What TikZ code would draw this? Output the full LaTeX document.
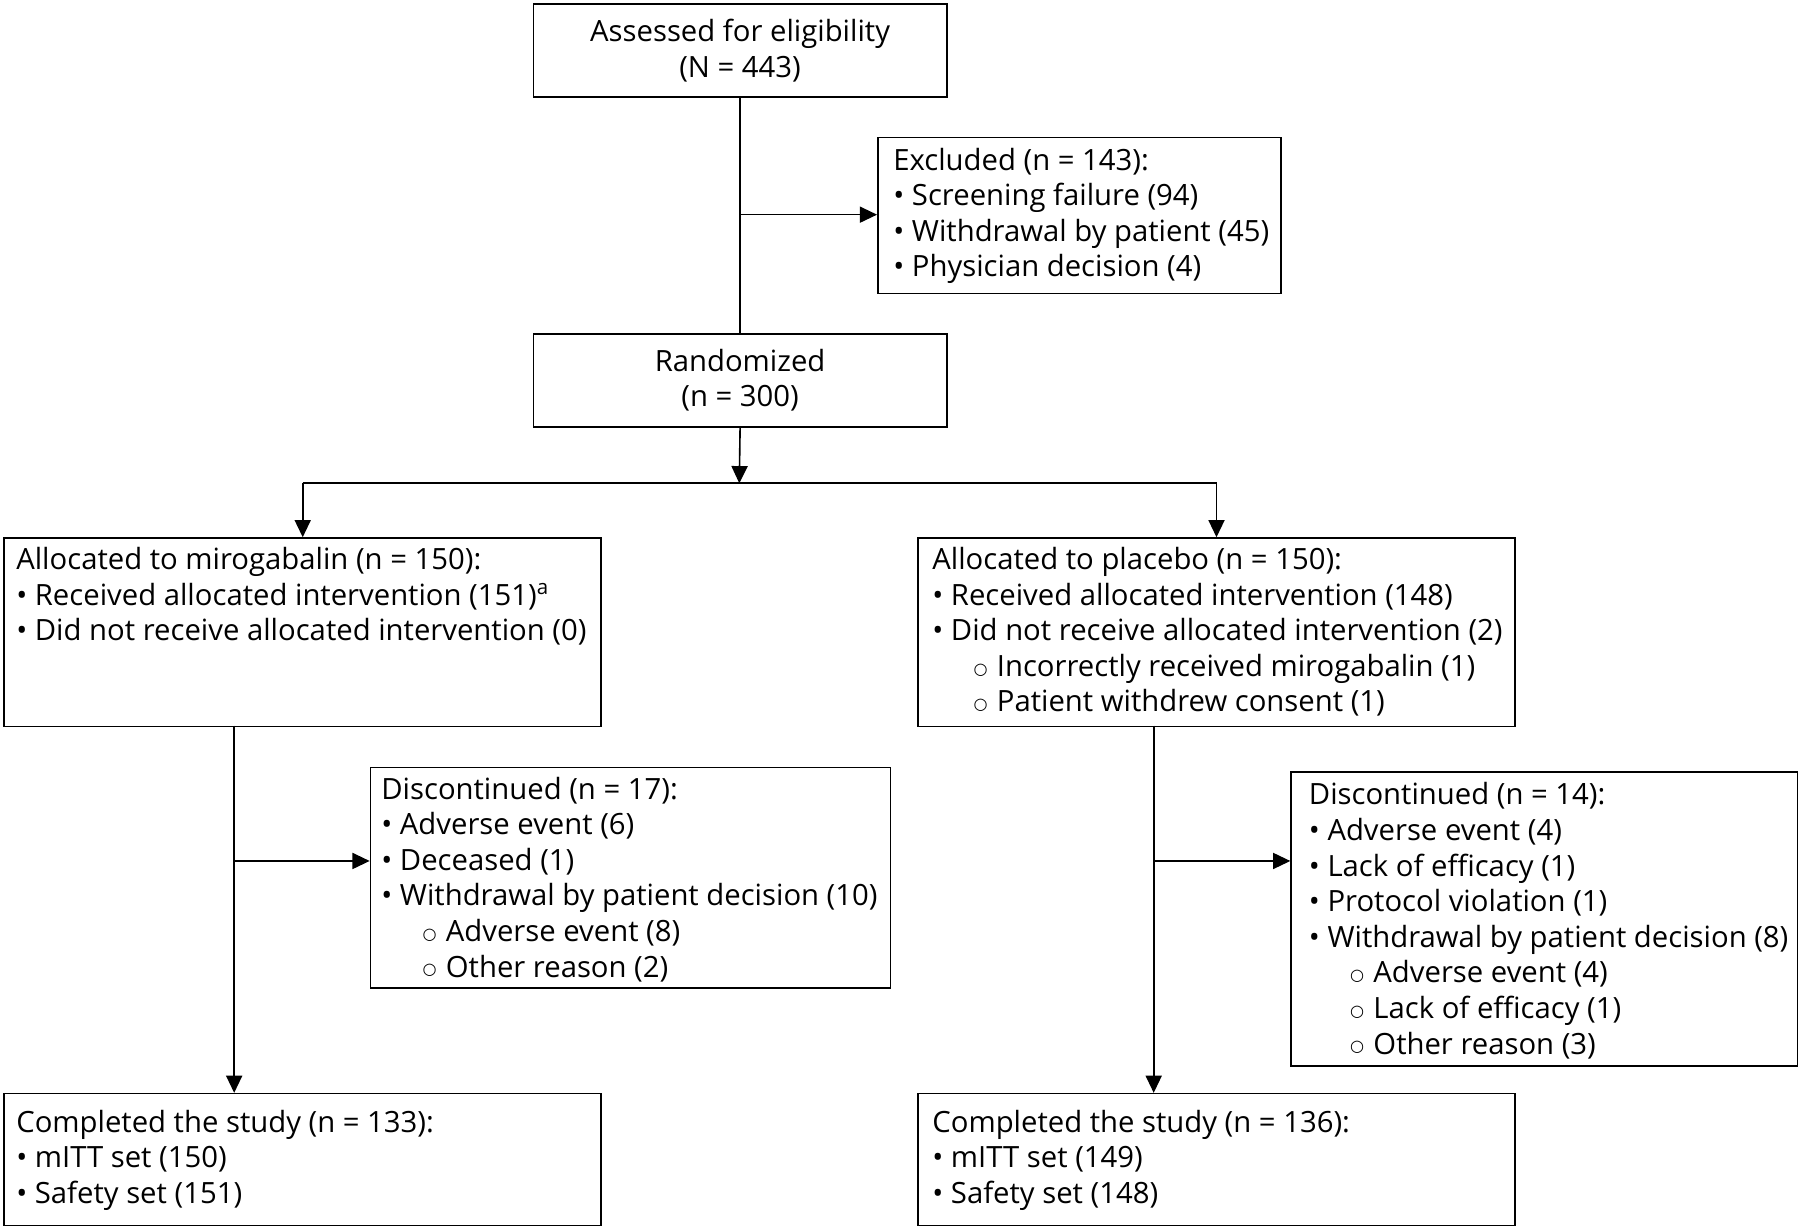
\documentclass[tikz,border=0pt]{standalone}
\usepackage{fontspec}
\setmainfont{Open Sans}
\newfontfamily\symf{DejaVu Sans}
\usetikzlibrary{arrows.meta}
\newcommand{\sub}{\hspace*{36pt}\raisebox{2pt}{\symf\fontsize{14}{31}\selectfont ○}\hspace*{8pt}}
\newcommand{\fl}{\rule{0pt}{22pt}}
\begin{document}
\begin{tikzpicture}[x=1pt,y=-1pt,
  box/.style={draw, line width=1.4pt, inner sep=0, anchor=north west},
  ctxt/.style={inner sep=0, align=center, font=\fontsize{25.5}{31}\selectfont},
  txt/.style={anchor=north west, inner sep=0, align=left, font=\fontsize{25.5}{31}\selectfont},
  link/.style={line width=1.4pt},
  arr/.style={link, -{Triangle[length=15pt,width=14pt]}}]
\useasboundingbox (0,0) rectangle (1568,1070);

% boxes
\node[box, minimum width=360pt, minimum height=81pt] (elig) at (464,3) {};
\node[box, minimum width=351pt, minimum height=136pt] (excl) at (764,119) {};
\node[box, minimum width=360pt, minimum height=81pt] (rand) at (464,290) {};
\node[box, minimum width=520pt, minimum height=164pt] (al1) at (3,468) {};
\node[box, minimum width=520pt, minimum height=164pt] (al2) at (799,468) {};
\node[box, minimum width=453pt, minimum height=192pt] (dc1) at (322,668) {};
\node[box, minimum width=441pt, minimum height=256pt] (dc2) at (1124,672) {};
\node[box, minimum width=520pt, minimum height=115pt] (cp1) at (3,952) {};
\node[box, minimum width=520pt, minimum height=115pt] (cp2) at (799,952) {};

% texts
\node[ctxt] (eligt) at (elig.center) {Assessed for eligibility\\(N = 443)};
\node[ctxt] (randt) at (rand.center) {Randomized\\(n = 300)};
\node[txt] (exclt) at ([shift={(14,7)}]excl.north west) {\fl Excluded (n = 143):\\• Screening failure (94)\\• Withdrawal by patient (45)\\• Physician decision (4)};
\node[txt] (al1t) at ([shift={(11,6)}]al1.north west) {\fl Allocated to mirogabalin (n = 150):\\• Received allocated intervention (151)\textsuperscript{a}\\• Did not receive allocated intervention (0)};
\node[txt] (al2t) at ([shift={(13,6)}]al2.north west) {\fl Allocated to placebo (n = 150):\\• Received allocated intervention (148)\\• Did not receive allocated intervention (2)\\\sub Incorrectly received mirogabalin (1)\\\sub Patient withdrew consent (1)};
\node[txt] (dc1t) at ([shift={(10,6)}]dc1.north west) {\fl Discontinued (n = 17):\\• Adverse event (6)\\• Deceased (1)\\• Withdrawal by patient decision (10)\\\sub Adverse event (8)\\\sub Other reason (2)};
\node[txt] (dc2t) at ([shift={(16,7)}]dc2.north west) {\fl Discontinued (n = 14):\\• Adverse event (4)\\• Lack of efficacy (1)\\• Protocol violation (1)\\• Withdrawal by patient decision (8)\\\sub Adverse event (4)\\\sub Lack of efficacy (1)\\\sub Other reason (3)};
\node[txt] (cp1t) at ([shift={(11,12)}]cp1.north west) {\fl Completed the study (n = 133):\\• mITT set (150)\\• Safety set (151)};
\node[txt] (cp2t) at ([shift={(13,12)}]cp2.north west) {\fl Completed the study (n = 136):\\• mITT set (149)\\• Safety set (148)};

% connectors
\draw[link] (elig.south) -- (rand.north);
\coordinate (exj) at (644,187);
\draw[arr] (exj) -- (exj -| excl.west);
\coordinate (split) at (644,421);
\draw[arr] (rand.south) -- (split);
\draw[link] (al1.north |- split) -- (al2.north |- split);
\draw[arr] (al1.north |- split) -- (al1.north);
\draw[arr] (al2.north |- split) -- (al2.north);
\coordinate (l1) at (204,632);
\coordinate (l2) at (1005,632);
\draw[arr] (l1) -- (l1 |- cp1.north);
\draw[arr] (l2) -- (l2 |- cp2.north);
\coordinate (b1) at (204,750);
\coordinate (b2) at (1005,750);
\draw[arr] (b1) -- (b1 -| dc1.west);
\draw[arr] (b2) -- (b2 -| dc2.west);
\end{tikzpicture}
\end{document}
